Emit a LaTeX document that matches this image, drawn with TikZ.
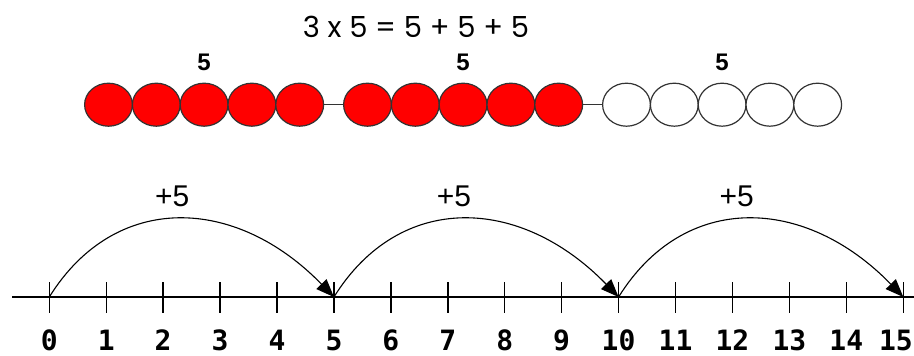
\documentclass[tikz,border=0pt]{standalone}
\usepackage{fontspec}
\newfontfamily\titlefont{Poppins}
\newfontfamily\labelfont{Liberation Sans}
\newfontfamily\numfont{DejaVu Sans Mono}
\definecolor{beadred}{rgb}{1,0,0}
\definecolor{rim}{rgb}{0.2,0.2,0.2}
\usetikzlibrary{chains,positioning,shapes.geometric,arrows.meta}
\tikzset{
	bead/.style={
		draw=rim, ellipse, line width=1.2pt,
		minimum width=47.8pt, minimum height=43pt,
		inner sep=0pt, outer sep=0pt, fill=white
	},
	tickmark/.style={line width=1.4pt},
}

\begin{document}
\begin{tikzpicture}[x=1pt,y=1pt,
			start chain=going right, node distance=0pt,
			grouplabel/.style={font=\labelfont\bfseries\fontsize{24}{24}\selectfont, inner sep=0pt},
			jumplabel/.style={font=\labelfont\fontsize{30}{30}\selectfont, inner sep=0pt, anchor=base},
			numlabel/.style={font=\numfont\bfseries\fontsize{28}{28}\selectfont, inner sep=0pt, anchor=base},
			jump/.style={-{Triangle[length=18pt,width=14pt]}, line width=1.1pt}]
		\useasboundingbox (0,0) rectangle (914,356);
		\node[font=\titlefont\fontsize{29}{29}\selectfont, anchor=base] (title) at (416,318) {3 x 5 = 5 + 5 + 5};
		% beads
		\node[bead,on chain,fill=beadred] (b1) at (108.5,251.3) {};
		\foreach \i in {2,...,5} \node[bead,on chain,fill=beadred] (b\i) {};
		\node[bead,on chain,fill=beadred,xshift=20pt] (b6) {};
		\foreach \i in {7,...,10} \node[bead,on chain,fill=beadred] (b\i) {};
		\node[bead,on chain,xshift=20pt] (b11) {};
		\foreach \i in {12,...,15} \node[bead,on chain] (b\i) {};
		\draw[rim, line width=1pt] (b5) -- (b6);
		\draw[rim, line width=1pt] (b10) -- (b11);
		\node[grouplabel] (g1) [above=12pt of b3] {5};
		\node[grouplabel] (g2) [above=12pt of b8] {5};
		\node[grouplabel] (g3) [above=12pt of b13] {5};
		% number line
		\coordinate (axisL) at (12,59);
		\coordinate (axisR) at (914,59);
		\draw[line width=1.4pt] (axisL) -- (axisR);
		\foreach \k in {0,...,14} {
			\coordinate (t\k) at (49.3+56.93*\k,59);
			\draw[tickmark] ([yshift=-16pt]t\k) -- ([yshift=15pt]t\k);
			\node[numlabel] (n\k) at (49.3+56.93*\k,5) {\k};
		}
		\coordinate (t15) at (903.3,59);
		\draw[tickmark] ([yshift=-16pt]t15) -- ([yshift=15pt]t15);
		\node[numlabel, anchor=base east] (n15) at (913,5) {15};
		\draw[jump] (t0) .. controls +(66,106) and +(-98,101) .. (t5);
		\draw[jump] (t5) .. controls +(66,106) and +(-98,101) .. (t10);
		\draw[jump] (t10) .. controls +(66,106) and +(-98,101) .. (t15);
		\node[jumplabel] (p1) at ([xshift=123pt,yshift=90pt]t0) {+5};
		\node[jumplabel] (p2) at ([xshift=120pt,yshift=90pt]t5) {+5};
		\node[jumplabel] (p3) at ([xshift=118pt,yshift=90pt]t10) {+5};
	\end{tikzpicture}
\end{document}
